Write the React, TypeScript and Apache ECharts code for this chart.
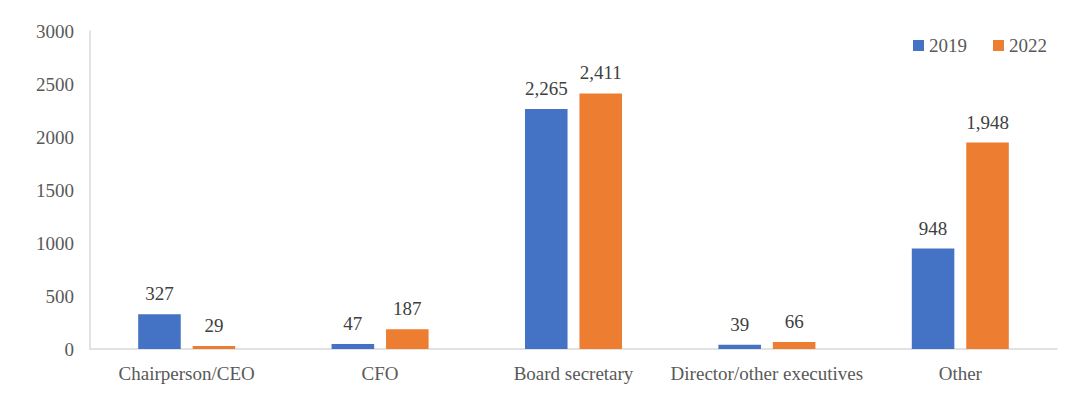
import React, { useEffect, useRef } from "react";
import * as echarts from "echarts";

const categories = ["Chairperson/CEO", "CFO", "Board secretary", "Director/other executives", "Other"];
const series2019 = [327, 47, 2265, 39, 948];
const series2022 = [29, 187, 2411, 66, 1948];
const yTicks = { min: 0, max: 3000, interval: 500 };

const FONT = "Liberation Serif";

export default function App() {
  const ref = useRef<HTMLDivElement>(null);
  useEffect(() => {
    if (!ref.current) return;
    document.body.style.margin = "0";
    const chart = echarts.init(ref.current, undefined, { renderer: "svg" });
    const fmt = (p: any) => Number(p.value).toLocaleString("en-US");
    const label = {
      show: true,
      position: "top",
      distance: 11,
      color: "#404040",
      fontFamily: FONT,
      fontSize: 19,
      formatter: fmt,
    };
    chart.setOption({
      animation: false,
      textStyle: { fontFamily: FONT },
      legend: {
        top: 31,
        right: 28,
        itemWidth: 11,
        itemHeight: 11,
        itemGap: 26,
        icon: "rect",
        textStyle: { fontFamily: FONT, fontSize: 19, color: "#595959" },
        data: ["2019", "2022"],
      },
      grid: { left: 90, right: 23, top: 31, bottom: 53, containLabel: false },
      xAxis: {
        type: "category",
        data: categories,
        axisLine: { lineStyle: { color: "#d9d9d9", width: 1.5 } },
        axisTick: { show: false },
        axisLabel: { color: "#595959", fontFamily: FONT, fontSize: 19, margin: 15, interval: 0 },
      },
      yAxis: {
        type: "value",
        min: yTicks.min,
        max: yTicks.max,
        interval: yTicks.interval,
        axisLine: { show: true, lineStyle: { color: "#d9d9d9", width: 1.5 } },
        axisTick: { show: false },
        splitLine: { show: false },
        axisLabel: {
          color: "#595959",
          fontFamily: FONT,
          fontSize: 19,
          margin: 16,
          formatter: (v: number) => String(v),
        },
      },
      series: [
        {
          name: "2019",
          type: "bar",
          data: series2019,
          barWidth: "22%",
          barGap: "28%",
          itemStyle: { color: "#4472C4" },
          label,
        },
        {
          name: "2022",
          type: "bar",
          data: series2022,
          barWidth: "22%",
          itemStyle: { color: "#ED7D31" },
          label,
        },
      ],
    });
    return () => chart.dispose();
  }, []);
  return <div ref={ref} style={{ width: 1080, height: 402 }} />;
}
